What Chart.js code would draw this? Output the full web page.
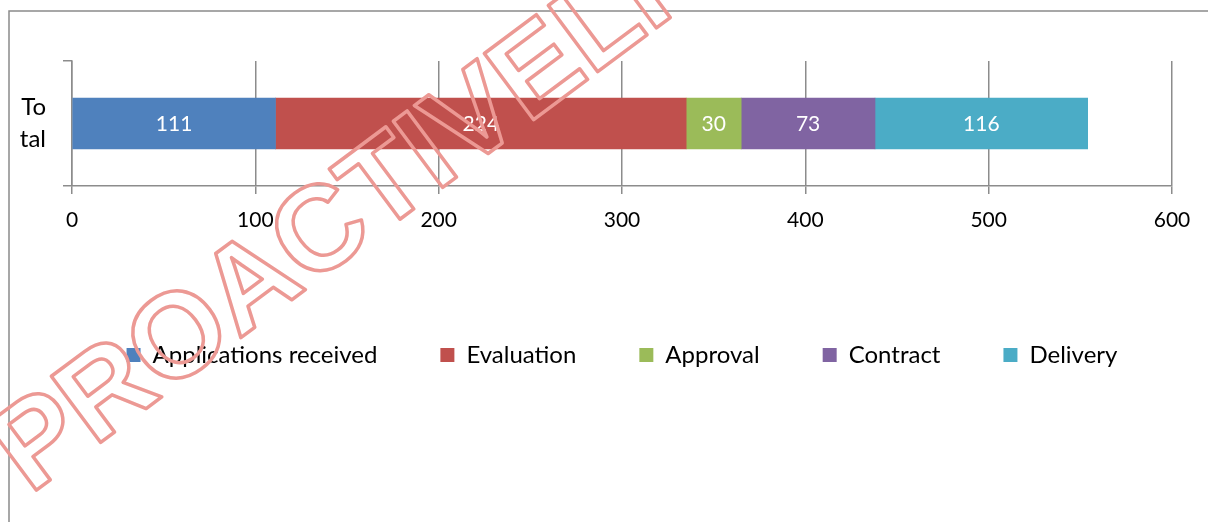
<!DOCTYPE html>
<html>
<head>
<meta charset="utf-8">
<script src="https://cdn.jsdelivr.net/npm/chart.js@4.4.1/dist/chart.umd.min.js"></script>
<style>
  html, body { margin: 0; padding: 0; background: #fff; }
  #wrap { width: 1208px; height: 522px; }
</style>
</head>
<body>
<div id="wrap"><canvas id="stageChart"></canvas></div>
<script>
// datos del gráfico
const categories = [['To', 'tal']];
const seriesNames = ['Applications received', 'Evaluation', 'Approval', 'Contract', 'Delivery'];
const applicationsReceived = [111];
const evaluation = [224];
const approval = [30];
const contract = [73];
const delivery = [116];
const xTicks = [0, 100, 200, 300, 400, 500, 600];
const watermarkText = 'PROACTIVELI';

const seriesValues = [applicationsReceived, evaluation, approval, contract, delivery];
const seriesColors = ['#4f81bd', '#c0504d', '#9bbb59', '#8064a2', '#4bacc6'];
const FONT = 'Lato, "Liberation Sans", sans-serif';
const GRID = '#8c8c8c';

// marco exterior
const framePlugin = {
    id: 'frame',
    beforeDraw(chart) {
        const ctx = chart.ctx;
        ctx.save();
        ctx.fillStyle = '#fff';
        ctx.fillRect(0, 0, chart.width, chart.height);
        ctx.strokeStyle = '#8a8a8a';
        ctx.lineWidth = 1.5;
        ctx.strokeRect(9, 11, 1400, 800);
        ctx.restore();
    }
};

// centrar la leyenda como en el original
const legendShift = {
    id: 'legendShift',
    afterLayout(chart) {
        chart.legend.left += 36;
        chart.legend.right += 36;
    }
};

// etiquetas de valor dentro de cada segmento
const valueLabels = {
    id: 'valueLabels',
    afterDatasetsDraw(chart) {
        const ctx = chart.ctx;
        ctx.save();
        ctx.fillStyle = '#ffffff';
        ctx.font = '21px ' + FONT;
        ctx.textAlign = 'center';
        ctx.textBaseline = 'middle';
        chart.data.datasets.forEach((ds, i) => {
            chart.getDatasetMeta(i).data.forEach((bar, j) => {
                const c = bar.getCenterPoint();
                ctx.fillText(String(ds.data[j]), c.x, c.y + 1);
            });
        });
        ctx.restore();
    }
};

// marca de agua
const watermark = {
    id: 'watermark',
    afterDraw(chart) {
        const ctx = chart.ctx;
        ctx.save();
        ctx.translate(30, 495);
        ctx.rotate(-36.7 * Math.PI / 180);
        ctx.font = 'bold 120px "Liberation Sans"';
        ctx.textAlign = 'left';
        ctx.textBaseline = 'alphabetic';
        ctx.lineWidth = 3.5;
        ctx.lineJoin = 'round';
        ctx.strokeStyle = '#ec9994';
        ctx.strokeText(watermarkText, 0, 0);
        ctx.restore();
    }
};

const ctx = document.getElementById('stageChart').getContext('2d');

const chart = new Chart(ctx, {
    type: 'bar',
    data: {
        labels: categories,
        datasets: seriesNames.map((name, i) => ({
            label: name,
            data: seriesValues[i],
            backgroundColor: seriesColors[i],
            borderWidth: 0,
            barThickness: 51
        }))
    },
    options: {
        indexAxis: 'y',
        responsive: true,
        maintainAspectRatio: false,
        animation: false,
        layout: {
            padding: { top: 61, left: 0, right: 36, bottom: 145 }
        },
        plugins: {
            tooltip: { enabled: false },
            legend: {
                position: 'bottom',
                labels: {
                    boxWidth: 14,
                    boxHeight: 14,
                    padding: 63,
                    color: '#000',
                    font: { family: FONT, size: 24 }
                }
            }
        },
        scales: {
            x: {
                stacked: true,
                min: xTicks[0],
                max: xTicks[xTicks.length - 1],
                afterFit(axis) { axis.height = 94; },
                ticks: {
                    stepSize: xTicks[1] - xTicks[0],
                    color: '#000',
                    padding: 14,
                    font: { family: FONT, size: 21 }
                },
                grid: {
                    color: GRID,
                    lineWidth: 1.5,
                    tickLength: 8
                },
                border: { color: GRID, width: 1.5 }
            },
            y: {
                stacked: true,
                afterFit(axis) { axis.width = 72; },
                ticks: {
                    color: '#000',
                    padding: 17,
                    font: { family: FONT, size: 24, lineHeight: 1.33 }
                },
                grid: {
                    offset: true,
                    drawOnChartArea: false,
                    color: GRID,
                    lineWidth: 1.5,
                    tickLength: 9
                },
                border: { color: GRID, width: 1.5 }
            }
        }
    },
    plugins: [framePlugin, legendShift, valueLabels, watermark]
});
</script>
</body>
</html>
